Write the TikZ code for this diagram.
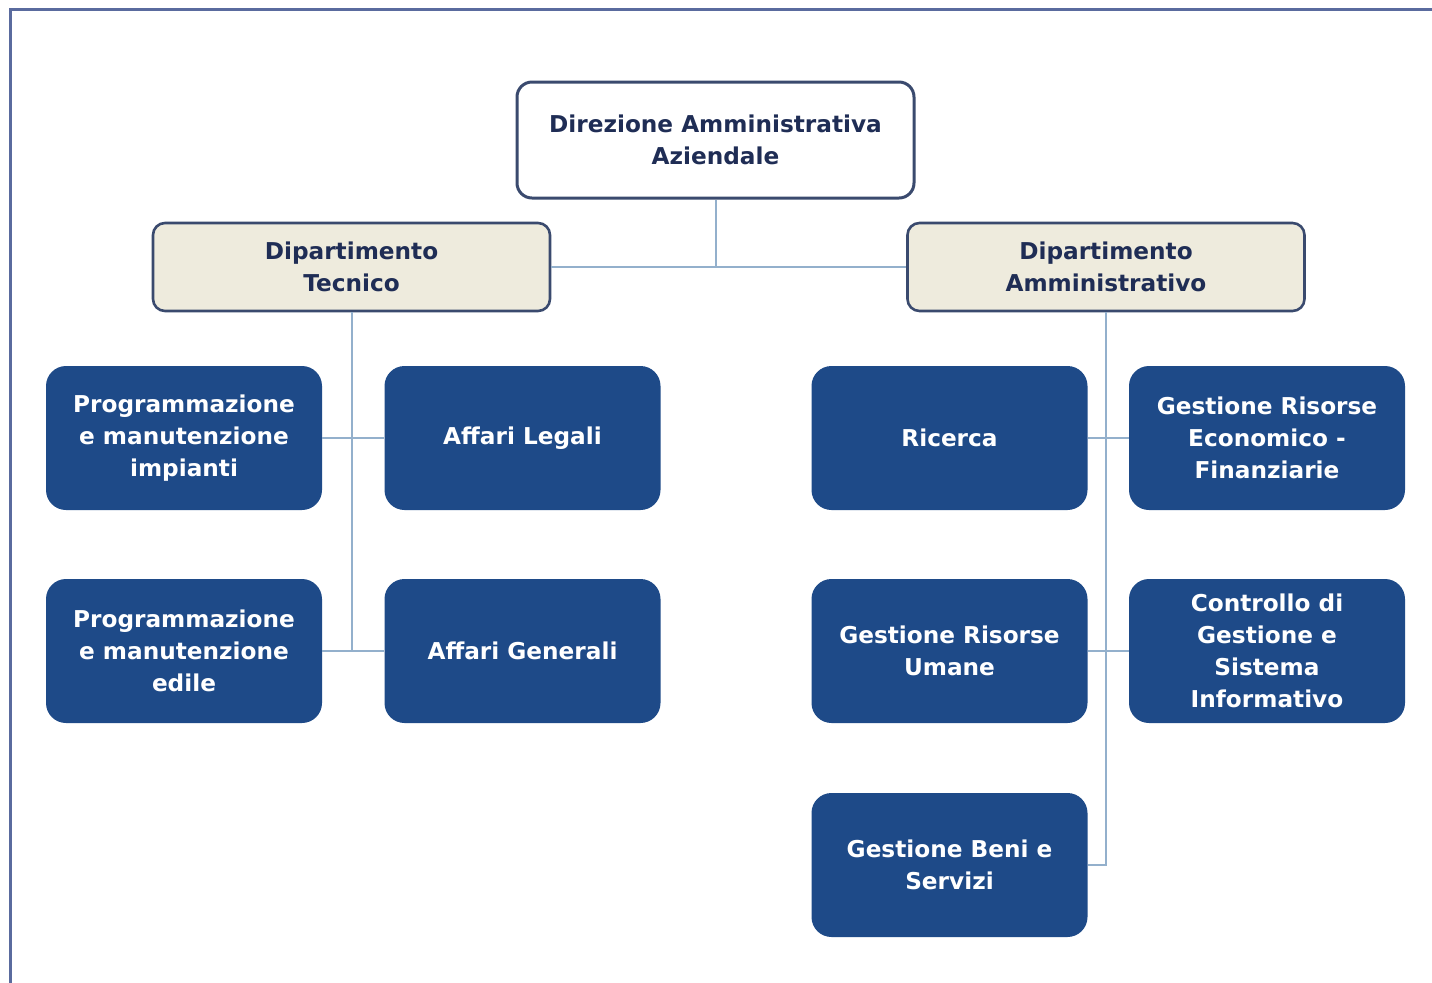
\documentclass[tikz,border=0pt]{standalone}
\usepackage{fontspec}
\setmainfont{DejaVu Sans}
\definecolor{framec}{HTML}{5A6B9E}
\definecolor{navy}{HTML}{3A4A6E}
\definecolor{darktext}{HTML}{1F2D55}
\definecolor{beige}{HTML}{EEEBDD}
\definecolor{boxblue}{HTML}{1E4A88}
\definecolor{linec}{HTML}{93B0CC}
\begin{document}
\begin{tikzpicture}[x=0.5pt,y=-0.5pt,
  every node/.style={font=\bfseries\fontsize{11.6}{16}\selectfont, align=center, inner sep=0pt},
  topbox/.style={draw=navy, line width=1.5pt, fill=white, rounded corners=7.5pt, minimum width=198.5pt, minimum height=58pt, text=darktext},
  deptbox/.style={draw=navy, line width=1.3pt, fill=beige, rounded corners=6pt, minimum width=198.5pt, minimum height=44pt, text=darktext},
  bluebox/.style={fill=boxblue, rounded corners=10pt, minimum width=138pt, minimum height=72pt, text=white},
  conn/.style={draw=linec, line width=1pt}]
\useasboundingbox (0,0) rectangle (1432,982);
\fill[white] (0,0) rectangle (1432,982);
\draw[framec, line width=1.4pt] (1440,9.5) -- (10.5,9.5) -- (10.5,990);

\node[topbox] (top) at (715.5,140) {Direzione Amministrativa\\Aziendale};
\node[deptbox] (tec) at (351.5,267) {Dipartimento\\Tecnico};
\node[deptbox] (amm) at (1106,267) {Dipartimento\\Amministrativo};

\node[bluebox] (pi) at (184,438) {Programmazione\\e manutenzione\\impianti};
\node[bluebox] (al) at (522.5,438) {Affari Legali};
\node[bluebox] (pe) at (184,651) {Programmazione\\e manutenzione\\edile};
\node[bluebox] (ag) at (522.5,651) {Affari Generali};

\node[bluebox] (ric) at (949.5,438) {Ricerca};
\node[bluebox] (gre) at (1267,438) {Gestione Risorse\\Economico -\\Finanziarie};
\node[bluebox] (gru) at (949.5,651) {Gestione Risorse\\Umane};
\node[bluebox] (cg) at (1267,651) {Controllo di\\Gestione e\\Sistema\\Informativo};
\node[bluebox] (gbs) at (949.5,865) {Gestione Beni e\\Servizi};

\draw[conn] (top.south) -- (top.south |- tec.east);
\draw[conn] (tec.east) -- (amm.west);
\draw[conn] (tec.south) -- (tec.south |- pe.east);
\draw[conn] (pi.east) -- (al.west);
\draw[conn] (pe.east) -- (ag.west);
\draw[conn] (amm.south) -- (amm.south |- gbs.east) -- (gbs.east);
\draw[conn] (ric.east) -- (gre.west);
\draw[conn] (gru.east) -- (cg.west);
\end{tikzpicture}
\end{document}
